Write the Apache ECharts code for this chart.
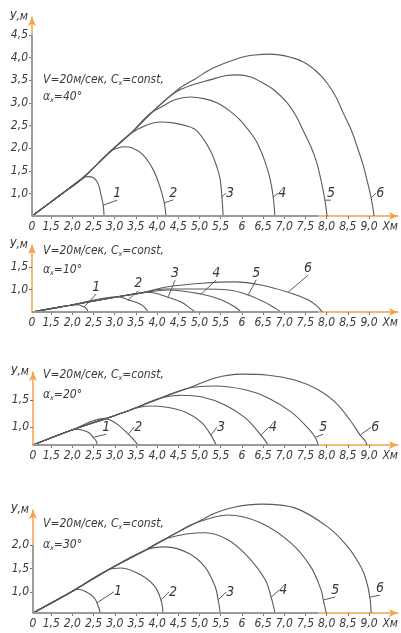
<!DOCTYPE html>
<html><head><meta charset="utf-8">
<script src="https://cdn.jsdelivr.net/npm/echarts@6/dist/echarts.min.js"></script>
<style>html,body{margin:0;padding:0;background:#fff}#c{width:401px;height:633px}</style>
</head><body><div id="c"></div>
<script>
// ---- tick labels ----
const xTickValues = [1.5,2.0,2.5,3.0,3.5,4.0,4.5,5.0,5.5,6.0,6.5,7.0,7.5,8.0,8.5,9.0];
const xTickLabels = ['1,5','2,0','2,5','3,0','3,5','4,0','4,5','5,0','5,5','6','6,5','7,0','7,5','8,0','8,5','9,0'];
const xNameValue = 9.5, xNameText = 'Хм', originText = '0';
const yTicks40 = [1.0,1.5,2.0,2.5,3.0,3.5,4.0,4.5];
const yLabels40 = ['1,0','1,5','2,0','2,5','3,0','3,5','4,0','4,5'];
const yTicks10 = [1.0,1.5], yLabels10 = ['1,0','1,5'];
const yTicks20 = [1.0,1.5], yLabels20 = ['1,0','1,5'];
const yTicks30 = [1.0,1.5,2.0], yLabels30 = ['1,0','1,5','2,0'];
const curveNames = ['1','2','3','4','5','6'];

// ---- α = 40° ----
const a40_1 = [[1.05,0.5],[1.71,0.96],[2.25,1.34],[2.37,1.37],[2.49,1.35],[2.61,1.21],[2.68,0.96],[2.73,0.74],[2.75,0.5]];
const a40_2 = [[1.05,0.5],[1.71,0.96],[2.25,1.34],[2.89,1.92],[3.01,1.98],[3.20,2.03],[3.43,2.00],[3.67,1.85],[3.91,1.52],[4.07,1.14],[4.17,0.79],[4.21,0.5]];
const a40_3 = [[1.05,0.5],[1.71,0.96],[2.25,1.34],[2.89,1.92],[3.36,2.31],[3.76,2.51],[4.07,2.58],[4.38,2.56],[4.71,2.49],[4.94,2.38],[5.25,1.96],[5.42,1.56],[5.49,1.30],[5.53,0.92],[5.56,0.5]];
const a40_4 = [[1.05,0.5],[1.71,0.96],[2.25,1.34],[2.89,1.92],[3.36,2.31],[3.83,2.76],[4.14,2.93],[4.42,3.07],[4.78,3.13],[5.13,3.09],[5.42,3.00],[5.72,2.82],[5.96,2.62],[6.19,2.36],[6.36,2.12],[6.55,1.69],[6.67,1.30],[6.74,0.92],[6.78,0.5]];
const a40_5 = [[1.05,0.5],[1.71,0.96],[2.25,1.34],[2.89,1.92],[3.36,2.31],[3.91,2.82],[4.31,3.15],[4.54,3.29],[4.90,3.42],[5.25,3.51],[5.60,3.60],[5.89,3.62],[6.19,3.58],[6.50,3.44],[6.78,3.27],[7.07,3.00],[7.28,2.71],[7.44,2.40],[7.63,2.03],[7.77,1.67],[7.89,1.19],[7.96,0.85],[8.01,0.5]];
const a40_6 = [[1.05,0.5],[1.71,0.96],[2.25,1.34],[2.89,1.92],[3.36,2.31],[3.91,2.82],[4.54,3.33],[4.90,3.53],[5.32,3.77],[5.96,4.00],[6.31,4.06],[6.67,4.08],[7.02,4.04],[7.44,3.91],[7.77,3.69],[8.01,3.44],[8.22,3.13],[8.39,2.78],[8.58,2.40],[8.72,2.03],[8.86,1.63],[8.95,1.30],[9.05,0.90],[9.12,0.5]];

// ---- α = 10° ----
const a10_1 = [[1.05,0.5],[1.95,0.65],[2.14,0.66],[2.28,0.61],[2.35,0.56],[2.37,0.5]];
const a10_2 = [[1.05,0.5],[1.95,0.65],[3.08,0.84],[3.32,0.77],[3.55,0.70],[3.70,0.61],[3.79,0.5]];
const a10_3 = [[1.05,0.5],[1.95,0.65],[3.08,0.84],[3.60,0.92],[3.79,0.94],[4.26,0.83],[4.57,0.72],[4.80,0.57],[4.90,0.5]];
const a10_4 = [[1.05,0.5],[1.95,0.65],[3.08,0.84],[3.60,0.92],[4.26,0.99],[5.04,0.90],[5.51,0.77],[5.84,0.61],[5.98,0.5]];
const a10_5 = [[1.05,0.5],[1.95,0.65],[3.08,0.84],[3.60,0.92],[4.19,1.01],[5.04,1.01],[5.68,0.99],[6.15,0.88],[6.62,0.68],[6.81,0.57],[6.92,0.5]];
const a10_6 = [[1.05,0.5],[1.95,0.65],[3.08,0.84],[3.60,0.92],[4.26,1.06],[5.04,1.14],[5.84,1.17],[6.45,1.10],[7.09,0.94],[7.56,0.77],[7.80,0.61],[7.89,0.5]];

// ---- α = 20° ----
const a20_1 = [[1.07,0.667],[1.97,0.94],[2.07,0.96],[2.25,0.94],[2.40,0.89],[2.49,0.81],[2.56,0.74],[2.59,0.667]];
const a20_2 = [[1.07,0.667],[1.97,0.94],[2.77,1.16],[2.89,1.13],[3.08,1.04],[3.32,0.87],[3.43,0.78],[3.55,0.667]];
const a20_3 = [[1.07,0.667],[1.97,0.94],[2.84,1.17],[3.32,1.30],[3.48,1.35],[3.83,1.39],[4.19,1.37],[4.66,1.28],[5.04,1.09],[5.27,0.85],[5.39,0.667]];
const a20_4 = [[1.07,0.667],[1.97,0.94],[2.84,1.17],[3.32,1.30],[4.09,1.54],[4.57,1.59],[5.04,1.56],[5.60,1.41],[6.08,1.17],[6.45,0.85],[6.62,0.667]];
const a20_5 = [[1.07,0.667],[1.97,0.94],[2.84,1.17],[3.32,1.30],[4.09,1.54],[4.73,1.72],[5.37,1.76],[6.08,1.69],[6.62,1.54],[7.16,1.28],[7.56,0.98],[7.73,0.81],[7.80,0.667]];
const a20_6 = [[1.07,0.667],[1.97,0.94],[2.84,1.17],[3.32,1.30],[4.09,1.54],[4.73,1.72],[5.37,1.91],[5.98,1.98],[6.62,1.96],[7.25,1.87],[7.80,1.69],[8.20,1.46],[8.55,1.13],[8.79,0.85],[8.91,0.74],[8.95,0.667]];

// ---- α = 30° ----
const a30_1 = [[1.07,0.553],[1.97,1.00],[2.14,1.06],[2.33,1.00],[2.50,0.89],[2.58,0.77],[2.66,0.553]];
const a30_2 = [[1.07,0.553],[1.97,1.00],[2.84,1.47],[3.15,1.51],[3.62,1.36],[3.95,1.11],[4.09,0.83],[4.14,0.553]];
const a30_3 = [[1.07,0.553],[1.97,1.00],[2.84,1.47],[3.72,1.89],[4.19,1.96],[4.73,1.83],[5.13,1.53],[5.37,1.11],[5.44,0.83],[5.49,0.553]];
const a30_4 = [[1.07,0.553],[1.97,1.00],[2.84,1.47],[3.72,1.89],[4.26,2.15],[5.13,2.26],[5.67,2.11],[6.15,1.74],[6.55,1.26],[6.69,0.89],[6.78,0.553]];
const a30_5 = [[1.07,0.553],[1.97,1.00],[2.84,1.47],[3.72,1.89],[4.50,2.28],[4.80,2.43],[5.67,2.64],[6.45,2.47],[7.16,2.04],[7.63,1.53],[7.87,1.04],[7.92,0.83],[7.99,0.553]];
const a30_6 = [[1.07,0.553],[1.97,1.00],[2.84,1.47],[3.72,1.89],[4.50,2.28],[5.04,2.53],[5.37,2.68],[5.84,2.81],[6.45,2.87],[7.25,2.79],[8.03,2.38],[8.50,1.96],[8.81,1.53],[8.93,1.26],[9.02,0.89],[9.05,0.553]];

// ---- layout / style (not data) ----
const FONT = '"Liberation Sans Narrow","DejaVu Sans Condensed",sans-serif';
const ORANGE = '#f5a24a', GRAY = '#9a9a9a', INK = '#3a3a3a', CURVE = '#5a5a5a';
const panels = [
  {curves:[a40_1,a40_2,a40_3,a40_4,a40_5,a40_6], yT:yTicks40, yL:yLabels40, grid:{left:32,top:17,width:366,height:199},
   xmin:1.05, xmax:9.68, ymin:0.5, ymax:4.90, grayYTop:4.5,
   attach:[7,10,13,17,21,22], off:[[14,-12],[9,-10],[8,-4],[9,-4],[6,-7],[9,-5]], angle:'40°', t1:82, t2:99},
  {curves:[a10_1,a10_2,a10_3,a10_4,a10_5,a10_6], yT:yTicks10, yL:yLabels10, grid:{left:32,top:245,width:366,height:67},
   xmin:1.05, xmax:9.68, ymin:0.5, ymax:1.99, grayYTop:null,
   attach:[3,3,5,5,7,8], off:[[12,-20],[10,-16],[7,-24],[15,-21],[8,-22],[20,-24]], angle:'10°', t1:253, t2:272},
  {curves:[a20_1,a20_2,a20_3,a20_4,a20_5,a20_6], yT:yTicks20, yL:yLabels20, grid:{left:33,top:372,width:365,height:73},
   xmin:1.07, xmax:9.68, ymin:0.667, ymax:2.02, grayYTop:null,
   attach:[5,5,9,9,11,13], off:[[13,-10],[10,-7],[10,-8],[12,-8],[8,-10],[15,-8]], angle:'20°', t1:377, t2:397},
  {curves:[a30_1,a30_2,a30_3,a30_4,a30_5,a30_6], yT:yTicks30, yL:yLabels30, grid:{left:33,top:510,width:365,height:103},
   xmin:1.07, xmax:9.68, ymin:0.553, ymax:2.745, grayYTop:2.0,
   attach:[5,6,8,9,11,14], off:[[21,-11],[12,-8],[12,-8],[12,-7],[12,-10],[10,-9]], angle:'30°', t1:526, t2:547}
];

function fmtFinder(vals, texts){
  return v => { const i = vals.findIndex(t => Math.abs(t - v) < 1e-6); return i >= 0 ? texts[i] : ''; };
}
const labelFont = {fontFamily:FONT, fontStyle:'italic', fontSize:12, color:INK};
const grids = [], xAxes = [], yAxes = [], series = [], graphics = [];
panels.forEach((p, i) => {
  grids.push(p.grid);
  const xVals = [p.xmin].concat(xTickValues, [xNameValue]);
  const xTxt = [originText].concat(xTickLabels, [xNameText]);
  xAxes.push({gridIndex:i, type:'value', min:p.xmin, max:p.xmax,
    axisLine:{show:true, onZero:false, symbol:['none','arrow'], symbolSize:[6,9], lineStyle:{color:ORANGE, width:1.5}},
    axisTick:{show:true, length:3, customValues:xTickValues, lineStyle:{color:'#777'}},
    axisLabel:Object.assign({customValues:xVals, formatter:fmtFinder(xVals, xTxt), margin:5}, labelFont),
    splitLine:{show:false}});
  yAxes.push({gridIndex:i, type:'value', min:p.ymin, max:p.ymax, name:'У,м', nameLocation:'end', nameGap:0,
    nameTextStyle:Object.assign({align:'right', verticalAlign:'middle', padding:[0,4,0,0]}, labelFont),
    axisLine:{show:true, onZero:false, symbol:['none','arrow'], symbolSize:[6,9], lineStyle:{color:ORANGE, width:1.5}},
    axisTick:{show:true, length:3, customValues:p.yT, lineStyle:{color:'#777'}},
    axisLabel:Object.assign({customValues:p.yT, formatter:fmtFinder(p.yT, p.yL), margin:4}, labelFont),
    splitLine:{show:false}});
  p.curves.forEach((pts, k) => {
    const data = pts.map((pt, j) => j === p.attach[k] ? {
      value:pt, symbol:'circle', symbolSize:1, itemStyle:{color:CURVE},
      label:{show:true, position:'inside', formatter:curveNames[k], fontFamily:FONT, fontStyle:'italic', fontSize:14, color:INK}
    } : {value:pt});
    const s = {type:'line', xAxisIndex:i, yAxisIndex:i, data, symbol:'none', showSymbol:true, showAllSymbol:true,
      smooth:0.35, clip:false, silent:true, animation:false, z:3,
      lineStyle:{color:CURVE, width:1.1},
      labelLine:{show:true, lineStyle:{color:CURVE, width:1}},
      labelLayout:{dx:p.off[k][0], dy:p.off[k][1]}};
    if (k === 0) {
      const segs = [[{coord:[p.xmin,p.ymin]},{coord:[7.8,p.ymin]}]];
      if (p.grayYTop != null) segs.push([{coord:[p.xmin,p.ymin]},{coord:[p.xmin,p.grayYTop]}]);
      s.markLine = {silent:true, symbol:'none', animation:false, label:{show:false},
        lineStyle:{color:GRAY, width:1.8, type:'solid'}, data:segs};
    }
    series.push(s);
  });
  graphics.push({type:'text', left:43, top:p.t1 - 8, silent:true,
    style:{text:'V=20м/сек, C{s|x}=const,', font:'italic 12px ' + FONT, fill:INK,
      rich:{s:{fontSize:7, fontStyle:'italic', fontFamily:FONT, fill:INK, padding:[6,0,0,0]}}}});
  graphics.push({type:'text', left:43, top:p.t2 - 8, silent:true,
    style:{text:'α{s|x}=' + p.angle, font:'italic 12px ' + FONT, fill:INK,
      rich:{s:{fontSize:7, fontStyle:'italic', fontFamily:FONT, fill:INK, padding:[6,0,0,0]}}}});
});

const chart = echarts.init(document.getElementById('c'), null, {renderer:'canvas'});
chart.setOption({animation:false, grid:grids, xAxis:xAxes, yAxis:yAxes, series:series, graphic:graphics});
</script></body></html>
